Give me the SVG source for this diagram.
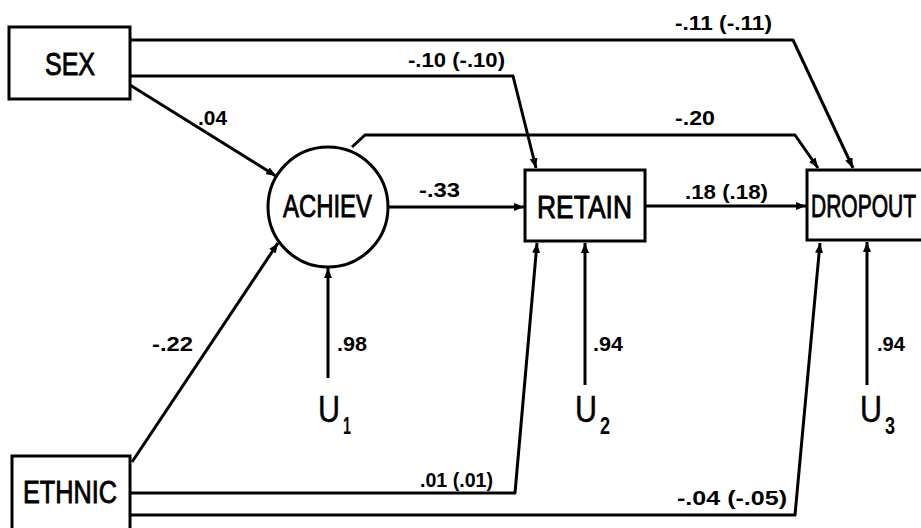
<svg xmlns="http://www.w3.org/2000/svg" width="921" height="528" viewBox="0 0 921 528">
<style>
.box{fill:#fff;stroke:#000;stroke-width:3}
.edge{fill:none;stroke:#000;stroke-width:3;stroke-linejoin:round}
.node{font-family:"Liberation Sans",Arial,sans-serif;font-size:32px;fill:#000;stroke:#000;stroke-width:0.9}
.lbl{font-family:"Liberation Sans",Arial,sans-serif;font-size:20px;font-weight:bold;fill:#000}
.u{font-family:"Liberation Sans",Arial,sans-serif;font-size:37px;fill:#000;stroke:#000;stroke-width:0.5}
.sub{font-family:"Liberation Sans",Arial,sans-serif;font-size:24px;font-weight:bold;fill:#000}
</style>
<defs>
<marker id="ah" viewBox="0 0 10 8" refX="10" refY="4" markerWidth="10" markerHeight="8" markerUnits="userSpaceOnUse" orient="auto">
<path d="M0,0 L10,4 L0,8 Z" fill="#000"/>
</marker>
</defs>
<rect width="921" height="528" fill="#fff"/>
<g id="connectors">
<path class="edge" d="M130,40 H793 L853,168" marker-end="url(#ah)"/>
<path class="edge" d="M130,76 H513 L536,168" marker-end="url(#ah)"/>
<path class="edge" d="M130,85 L276,176" marker-end="url(#ah)"/>
<path class="edge" d="M352,147 L365,135 H795 L818,168" marker-end="url(#ah)"/>
<path class="edge" d="M388,207 H524" marker-end="url(#ah)"/>
<path class="edge" d="M645,206 H806" marker-end="url(#ah)"/>
<path class="edge" d="M132,462 L278,243" marker-end="url(#ah)"/>
<path class="edge" d="M130,493 H515 L537,243" marker-end="url(#ah)"/>
<path class="edge" d="M130,515 H795 L820,243" marker-end="url(#ah)"/>
<path class="edge" d="M328,378 V268" marker-end="url(#ah)"/>
<path class="edge" d="M585,385 V243" marker-end="url(#ah)"/>
<path class="edge" d="M867,385 V242" marker-end="url(#ah)"/>
<text class="lbl" x="675" y="30" textLength="97" lengthAdjust="spacingAndGlyphs">-.11 (-.11)</text>
<text class="lbl" x="408" y="67" textLength="97" lengthAdjust="spacingAndGlyphs">-.10 (-.10)</text>
<text class="lbl" x="198" y="125" textLength="29" lengthAdjust="spacingAndGlyphs">.04</text>
<text class="lbl" x="675" y="125" textLength="40" lengthAdjust="spacingAndGlyphs">-.20</text>
<text class="lbl" x="419" y="197" textLength="41" lengthAdjust="spacingAndGlyphs">-.33</text>
<text class="lbl" x="685" y="199" textLength="83" lengthAdjust="spacingAndGlyphs">.18 (.18)</text>
<text class="lbl" x="152" y="351" textLength="41" lengthAdjust="spacingAndGlyphs">-.22</text>
<text class="lbl" x="337" y="351" textLength="30" lengthAdjust="spacingAndGlyphs">.98</text>
<text class="lbl" x="593" y="351" textLength="30" lengthAdjust="spacingAndGlyphs">.94</text>
<text class="lbl" x="877" y="351" textLength="28" lengthAdjust="spacingAndGlyphs">.94</text>
<text class="lbl" x="420" y="487" textLength="73" lengthAdjust="spacingAndGlyphs">.01 (.01)</text>
<text class="lbl" x="677" y="505" textLength="110" lengthAdjust="spacingAndGlyphs">-.04 (-.05)</text>
</g>
<g id="sex">
<rect class="box" x="9" y="27" width="121" height="72"/>
<text class="node" x="45" y="75" textLength="50" lengthAdjust="spacingAndGlyphs">SEX</text>
</g>
<g id="ethnic">
<rect class="box" x="12" y="456" width="118" height="74"/>
<text class="node" x="23" y="503" textLength="94" lengthAdjust="spacingAndGlyphs">ETHNIC</text>
</g>
<g id="achiev">
<circle class="box" cx="328" cy="207" r="60"/>
<text class="node" x="283" y="217" textLength="89" lengthAdjust="spacingAndGlyphs">ACHIEV</text>
</g>
<g id="retain">
<rect class="box" x="525" y="170" width="120" height="71"/>
<text class="node" x="537" y="218" textLength="95" lengthAdjust="spacingAndGlyphs">RETAIN</text>
</g>
<g id="dropout">
<rect class="box" x="807" y="170" width="130" height="70"/>
<text class="node" x="811" y="217" textLength="105" lengthAdjust="spacingAndGlyphs">DROPOUT</text>
</g>
<g id="u1">
<text class="u" x="318" y="422" textLength="22" lengthAdjust="spacingAndGlyphs">U</text>
<text class="sub" x="343" y="434" textLength="8" lengthAdjust="spacingAndGlyphs">1</text>
</g>
<g id="u2">
<text class="u" x="575" y="422" textLength="22" lengthAdjust="spacingAndGlyphs">U</text>
<text class="sub" x="600" y="434" textLength="10" lengthAdjust="spacingAndGlyphs">2</text>
</g>
<g id="u3">
<text class="u" x="860" y="422" textLength="22" lengthAdjust="spacingAndGlyphs">U</text>
<text class="sub" x="885" y="434" textLength="10" lengthAdjust="spacingAndGlyphs">3</text>
</g>
</svg>
